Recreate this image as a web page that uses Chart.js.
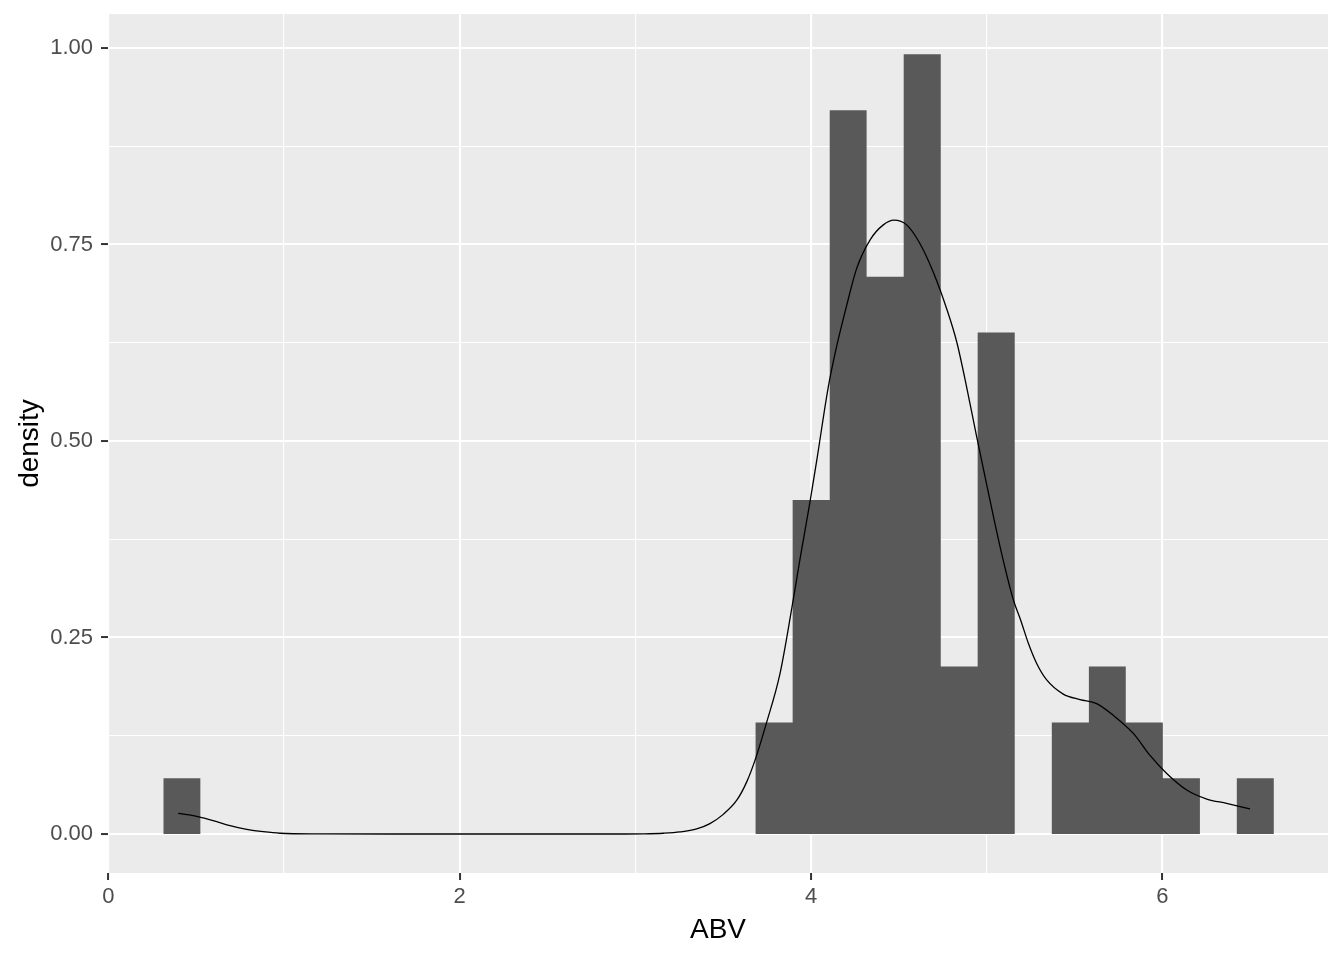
<!DOCTYPE html>
<html><head><meta charset="utf-8">
<script src="https://cdn.jsdelivr.net/npm/chart.js@4.4.0/dist/chart.umd.min.js"></script>
<style>html,body{margin:0;padding:0;background:#fff}canvas{display:block}</style>
</head><body>
<canvas id="c" width="1344" height="960"></canvas>
<script>
// Histogram bins (30 bins) – left/right edges and density heights
const binEdges = [0.313, 0.524, 0.734, 0.945, 1.156, 1.367, 1.577, 1.788, 1.999, 2.209,
                  2.420, 2.631, 2.841, 3.052, 3.263, 3.474, 3.684, 3.895, 4.106, 4.316,
                  4.527, 4.738, 4.948, 5.159, 5.370, 5.581, 5.791, 6.002, 6.213, 6.423, 6.634];
const binDensity = [0.071, 0, 0, 0, 0, 0, 0, 0, 0, 0,
                    0, 0, 0, 0, 0, 0, 0.142, 0.425, 0.921, 0.709,
                    0.992, 0.213, 0.638, 0, 0.142, 0.213, 0.142, 0.071, 0, 0.071];
// Kernel density curve
const curveX = [0.398, 0.484, 0.541, 0.617, 0.693, 0.788, 0.882, 0.977, 1.2, 1.6,
                2.0, 2.4, 2.8, 3.05, 3.16, 3.254, 3.349, 3.424, 3.5, 3.577,
                3.633, 3.681, 3.747, 3.823, 3.890, 3.937, 3.994, 4.032, 4.098, 4.146,
                4.203, 4.260, 4.336, 4.411, 4.472, 4.544, 4.620, 4.695, 4.772, 4.829,
                4.885, 4.942, 5.000, 5.075, 5.151, 5.193, 5.236, 5.284, 5.341, 5.435,
                5.531, 5.625, 5.720, 5.834, 5.929, 6.024, 6.138, 6.252, 6.365, 6.498];
const curveY = [0.0263, 0.0235, 0.0204, 0.0157, 0.0106, 0.006, 0.003, 0.001, 0.0002, 0,
                0, 0, 0, 0.0003, 0.001, 0.0026, 0.0064, 0.0132, 0.025, 0.043,
                0.066, 0.094, 0.142, 0.204, 0.287, 0.350, 0.423, 0.475, 0.569, 0.621,
                0.673, 0.720, 0.756, 0.775, 0.781, 0.775, 0.751, 0.715, 0.668, 0.626,
                0.569, 0.506, 0.444, 0.366, 0.298, 0.272, 0.243, 0.217, 0.196, 0.178,
                0.171, 0.166, 0.151, 0.128, 0.100, 0.077, 0.056, 0.0445, 0.039, 0.032];
// Ticks
const xMajorTicks = [0, 2, 4, 6];
const xMajorLabels = ['0', '2', '4', '6'];
const xMinorTicks = [1, 3, 5];
const yMajorTicks = [0, 0.25, 0.5, 0.75, 1];
const yMajorLabels = ['0.00', '0.25', '0.50', '0.75', '1.00'];
const yMinorTicks = [0.125, 0.375, 0.625, 0.875];
const xTitle = 'ABV';
const yTitle = 'density';

const FONT = "'Liberation Sans', Arial, sans-serif";
const isIn = (v, arr) => arr.some(m => Math.abs(m - v) < 1e-9);
const labelFor = (v, majors, labels) => {
  const i = majors.findIndex(m => Math.abs(m - v) < 1e-9);
  return i >= 0 ? labels[i] : '';
};

const histPoints = binEdges.map((e, i) => ({x: e, y: binDensity[Math.min(i, binDensity.length - 1)]}));
const curvePoints = curveX.map((x, i) => ({x: x, y: curveY[i]}));

const panelBg = {
  id: 'panelBg',
  beforeDraw(chart) {
    const {ctx, chartArea: a} = chart;
    ctx.save();
    ctx.fillStyle = '#EBEBEB';
    ctx.fillRect(a.left, a.top, a.right - a.left, a.bottom - a.top);
    ctx.restore();
  }
};

function gridOpts(majors) {
  return {
    color: '#FFFFFF',
    lineWidth: c => (c.tick && isIn(c.tick.value, majors)) ? 2.1 : 1.1,
    drawTicks: true,
    tickLength: 7,
    tickWidth: 2,
    tickColor: c => (c.tick && isIn(c.tick.value, majors)) ? '#333333' : 'rgba(0,0,0,0)'
  };
}

new Chart(document.getElementById('c'), {
  type: 'line',
  data: {
    datasets: [
      {
        data: curvePoints,
        borderColor: '#000000',
        borderWidth: 1.3,
        pointRadius: 0,
        fill: false,
        cubicInterpolationMode: 'monotone',
        order: 1
      },
      {
        data: histPoints,
        backgroundColor: '#595959',
        borderColor: 'rgba(0,0,0,0)',
        borderWidth: 0,
        pointRadius: 0,
        stepped: 'before',
        fill: 'origin',
        order: 2
      }
    ]
  },
  options: {
    responsive: false,
    animation: false,
    devicePixelRatio: 1,
    layout: {padding: {left: 0, right: 16, top: 14, bottom: 0}},
    plugins: {legend: {display: false}, tooltip: {enabled: false}},
    scales: {
      x: {
        type: 'linear',
        min: -0.0017,
        max: 6.942,
        afterBuildTicks: s => { s.ticks = xMajorTicks.concat(xMinorTicks).sort((a, b) => a - b).map(v => ({value: v})); },
        afterFit: s => { s.height = 87; s.paddingLeft = 0; s.paddingRight = 0; },
        grid: gridOpts(xMajorTicks),
        border: {display: false},
        ticks: {
          autoSkip: false, maxRotation: 0, padding: 4, color: '#4D4D4D',
          font: {family: FONT, size: 22},
          callback: v => labelFor(v, xMajorTicks, xMajorLabels)
        },
        title: {
          display: true, text: xTitle, color: '#000000',
          font: {family: FONT, size: 28, lineHeight: 1.2},
          padding: {top: 0, bottom: 13}
        }
      },
      y: {
        type: 'linear',
        min: -0.0496,
        max: 1.0433,
        afterBuildTicks: s => { s.ticks = yMajorTicks.concat(yMinorTicks).sort((a, b) => a - b).map(v => ({value: v})); },
        afterFit: s => { s.width = 108; s.paddingTop = 0; s.paddingBottom = 0; },
        grid: gridOpts(yMajorTicks),
        border: {display: false},
        ticks: {
          autoSkip: false, padding: 8, color: '#4D4D4D',
          font: {family: FONT, size: 22},
          callback: v => labelFor(v, yMajorTicks, yMajorLabels)
        },
        title: {
          display: true, text: yTitle, color: '#000000',
          font: {family: FONT, size: 28, lineHeight: 1.2},
          padding: {top: 13, bottom: 0}
        }
      }
    }
  },
  plugins: [panelBg]
});
</script>
</body></html>
